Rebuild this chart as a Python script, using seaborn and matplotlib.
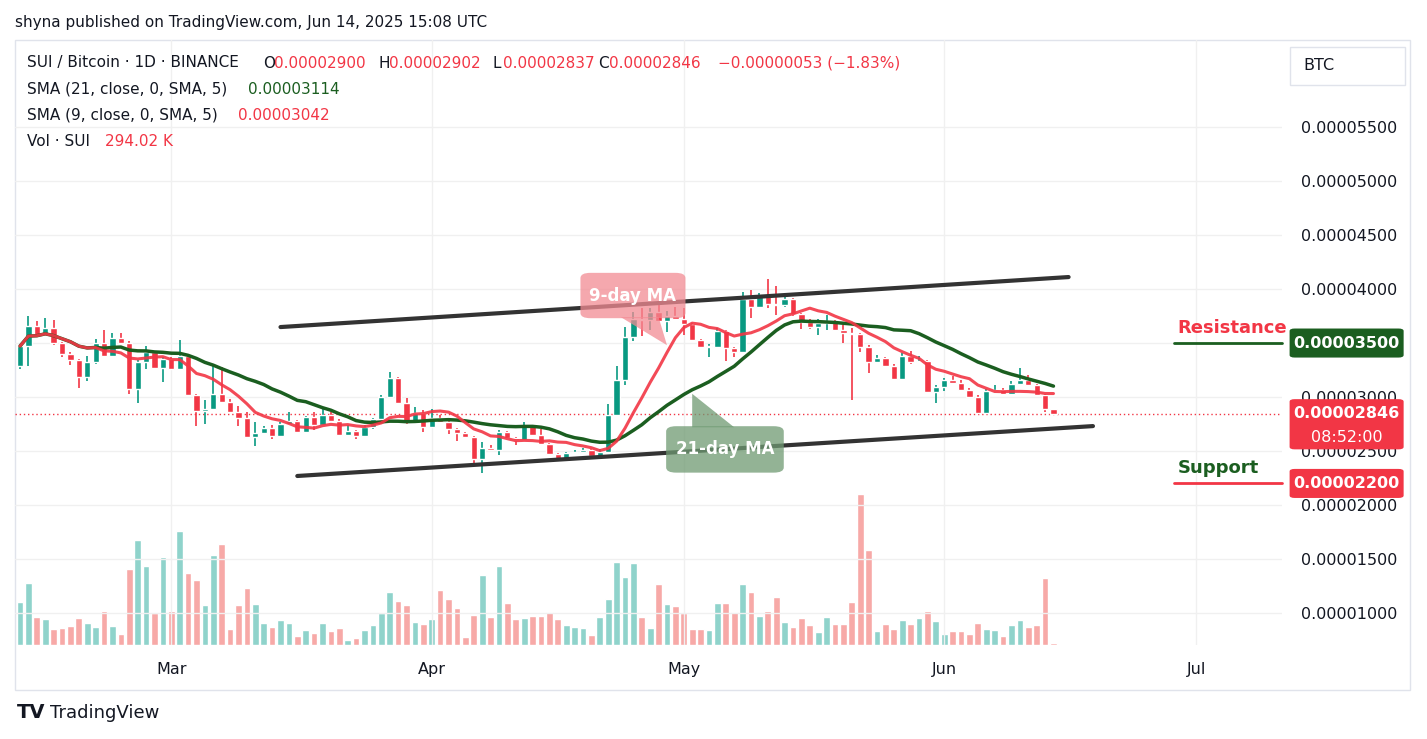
import numpy as np
import pandas as pd
import seaborn as sns
import matplotlib.pyplot as plt
from matplotlib.patches import FancyBboxPatch, Polygon

# --- Data (prices in micro-BTC, i.e. x 1e-6), daily from Feb 11 2025 ---
first_open = 32.87
closes = [34.72, 36.57, 35.74, 36.39, 35.00, 33.98, 33.43, 31.85, 33.24, 35.00,
          33.80, 35.46, 35.00, 30.74, 33.24, 34.17, 32.69, 33.52, 32.59, 33.80,
          30.19, 28.70, 28.89, 30.28, 29.54, 28.61, 28.06, 26.30, 26.67, 27.13,
          26.39, 27.50, 27.78, 26.76, 28.15, 27.41, 28.33, 27.78, 26.48, 26.85,
          26.39, 27.22, 27.96, 30.00, 31.76, 29.44, 27.69, 28.52, 27.22, 28.06,
          27.69, 27.04, 26.67, 26.30, 24.26, 25.28, 25.09, 26.76, 26.20, 26.02,
          27.31, 26.48, 25.65, 24.72, 24.26, 24.81, 24.91, 25.09, 24.54, 24.91,
          28.33, 31.57, 35.56, 37.22, 37.13, 37.87, 37.04, 37.50, 37.22, 36.76,
          35.28, 34.63, 34.63, 36.11, 34.54, 34.17, 39.07, 38.33, 39.35, 38.61,
          38.52, 39.07, 37.69, 36.94, 36.48, 36.85, 37.04, 36.20, 35.93, 35.83,
          34.63, 33.24, 33.61, 32.87, 31.67, 33.80, 33.24, 33.33, 30.46, 30.93,
          31.57, 31.30, 30.65, 30.00, 28.52, 30.56, 30.65, 30.28, 31.20, 31.57,
          31.11, 30.19, 28.89, 28.46]
wick_up = [0.2, 0.9, 0.5, 0.9, 0.7, 0.1, 0.2, 0.1, 0.6, 0.4, 1.2, 0.5, 0.5, 0.2, 0.2,
           0.6, 0.1, 0.2, 0.2, 1.5, 0.1, 0.1, 0.8, 2.6, 2.5, 0.3, 0.6, 0.6, 1.0, 0.2,
           0.3, 0.2, 0.8, 0.1, 0.1, 0.5, 0.7, 0.3, 0.2, 0.6, 0.1, 0.2, 0.1, 0.2, 0.6,
           0.1, 0.5, 0.6, 0.3, 0.8, 0.3, 0.1, 0.1, 0.1, 0.1, 0.6, 0.3, 0.2, 0.1, 0.1,
           0.4, 0.1, 0.6, 0.1, 0.1, 0.1, 0.2, 0.2, 0.1, 0.3, 1.0, 1.3, 0.9, 0.7, 1.0,
           0.4, 1.8, 0.5, 0.8, 1.0, 0.1, 0.1, 0.3, 0.3, 0.1, 0.1, 0.7, 0.8, 0.3, 1.6,
           1.7, 0.3, 0.1, 0.1, 0.3, 0.4, 0.6, 0.1, 0.5, 0.5, 0.1, 0.2, 0.3, 0.1, 0.2,
           0.3, 0.5, 0.5, 0.1, 0.2, 0.2, 0.4, 0.3, 0.2, 0.2, 0.2, 0.5, 0.2, 0.3, 1.1,
           0.5, 0.1, 0.1, 0.0]
wick_dn = [0.3, 1.8, 0.1, 0.1, 0.2, 0.3, 0.5, 1.0, 0.4, 0.2, 0.1, 0.1, 0.1, 0.5, 1.3,
           0.6, 0.1, 1.3, 0.1, 0.1, 0.1, 1.4, 1.2, 0.1, 0.1, 0.1, 0.7, 0.1, 0.8, 0.1,
           0.3, 0.1, 0.1, 0.1, 0.1, 0.5, 0.1, 0.1, 0.1, 0.1, 0.3, 0.1, 0.2, 0.1, 0.1,
           0.1, 0.2, 0.1, 0.5, 0.1, 0.1, 0.5, 0.7, 0.1, 0.5, 1.3, 0.1, 0.5, 0.1, 0.5,
           0.1, 0.1, 0.1, 0.1, 0.1, 0.1, 0.1, 0.1, 0.1, 0.3, 0.1, 0.1, 0.5, 0.4, 1.5,
           0.9, 0.1, 1.0, 0.1, 1.0, 0.1, 0.1, 0.9, 0.1, 1.2, 0.5, 0.1, 1.0, 0.1, 0.4,
           0.9, 0.2, 0.2, 0.6, 0.2, 0.7, 0.6, 0.1, 0.9, 6.1, 0.5, 1.0, 0.1, 0.1, 0.1,
           0.1, 0.2, 0.1, 0.1, 1.0, 0.4, 0.1, 0.1, 0.1, 0.1, 0.1, 0.1, 0.1, 0.1, 0.1,
           0.1, 0.1, 0.3, 0.0]
# volume in units of ~130K SUI
volumes = [43, 62, 28, 26, 16, 17, 19, 27, 22, 18, 34, 19, 11, 76, 105, 79, 32, 88, 34, 114,
           72, 65, 40, 90, 101, 16, 40, 57, 41, 22, 18, 25, 22, 9, 15, 12, 22, 14, 17, 5,
           7, 15, 20, 32, 53, 44, 40, 23, 21, 26, 55, 46, 37, 8, 30, 70, 28, 79, 42, 26,
           27, 29, 29, 33, 26, 20, 18, 17, 10, 28, 46, 83, 68, 82, 28, 17, 61, 41, 39, 32,
           16, 16, 15, 42, 42, 33, 61, 53, 29, 34, 48, 23, 18, 27, 20, 13, 28, 21, 21, 43,
           151, 95, 14, 21, 16, 25, 21, 27, 34, 24, 11, 14, 14, 11, 22, 16, 15, 9, 20, 25,
           18, 20, 67, 2]
month_labels = ["Mar", "Apr", "May", "Jun", "Jul"]
month_days = [18, 49, 79, 110, 140]  # day index from Feb 11
upper_channel = ([31.0, 124.8], [36.48, 41.11])
lower_channel = ([33.0, 127.7], [22.69, 27.31])
resistance, support = 35.0, 22.0

df = pd.DataFrame({"day": np.arange(len(closes)), "close": closes})
df["open"] = [first_open] + closes[:-1]
df["high"] = df[["open", "close"]].max(axis=1) + np.array(wick_up)
df["low"] = df[["open", "close"]].min(axis=1) - np.array(wick_dn)
df["volume"] = volumes
df["sma9"] = df["close"].rolling(9, min_periods=1).mean()
df["sma21"] = df["close"].rolling(21, min_periods=1).mean()
up = df["close"] >= df["open"]

GREEN, RED = "#089981", "#f23645"
sns.set_theme(style="white")
plt.rcParams["font.family"] = "DejaVu Sans"

W, H = 1427, 739
fig = plt.figure(figsize=(W / 100, H / 100), dpi=100)
ax = fig.add_axes([15 / W, (H - 645) / H, (1282 - 15) / W, 605 / H])
axv = ax.twinx()

x0, x1 = -0.6, 150.2
ymin, ymax = 7.04, 63.06

# volume
axv.bar(df["day"], df["volume"], width=0.8,
        color=np.where(up, "#8fd3cb", "#f7a9a7"), zorder=1)
axv.set_ylim(0, 605)
axv.axis("off")
ax.set_zorder(axv.get_zorder() + 1)
ax.patch.set_visible(False)

# grid
for v in range(10, 60, 5):
    ax.axhline(v, color="#f0f0f0", lw=1, zorder=0)
for d in month_days:
    ax.axvline(d, color="#f0f0f0", lw=1, zorder=0)

# candles
cols = np.where(up, GREEN, RED)
ax.vlines(df["day"], df["low"], df["high"], color=cols, lw=1.2, zorder=3)
ax.bar(df["day"], (df["close"] - df["open"]).where(lambda s: s.abs() > 0.08, 0.08),
       bottom=df["open"], width=0.75, color=cols, zorder=4)

# moving averages
sns.lineplot(data=df, x="day", y="sma21", ax=ax, color="#1b5e20", lw=2.5, zorder=5)
sns.lineplot(data=df, x="day", y="sma9", ax=ax, color=RED, lw=2.2, zorder=6, alpha=0.9)

# channel
ax.plot(*upper_channel, color="#333333", lw=3, solid_capstyle="round", zorder=7)
ax.plot(*lower_channel, color="#333333", lw=3, solid_capstyle="round", zorder=7)

# last price line
ax.axhline(closes[-1], color=RED, lw=1, ls=(0, (1, 2)), zorder=2)

# resistance / support
ax.plot([137.3, 150.2], [resistance, resistance], color="#1b5e20", lw=2, clip_on=False)
ax.plot([137.3, 150.2], [support, support], color=RED, lw=2, clip_on=False)
ax.text(137.8, resistance + 0.6, "Resistance", color=RED, fontsize=13, fontweight="bold", va="bottom")
ax.text(137.8, support + 0.6, "Support", color="#1b5e20", fontsize=13, fontweight="bold", va="bottom")

# callouts
def callout(text, xy_box, tip, color):
    bx, by, bw, bh = xy_box
    ax.add_patch(FancyBboxPatch((bx, by), bw, bh, boxstyle="round,pad=0,rounding_size=1.2",
                                fc=color, ec="none", alpha=0.75, zorder=8,
                                mutation_aspect=0.4))
    ax.add_patch(Polygon(tip, closed=True, fc=color, ec="none", alpha=0.75, zorder=8))
    ax.text(bx + bw / 2, by + bh / 2, text, color="white", fontsize=12, fontweight="bold",
            ha="center", va="center", zorder=9)

callout("9-day MA", (66.7, 37.3, 12.5, 4.2), [(71.5, 37.4), (76.0, 37.4), (77.0, 34.8)], "#f28b93")
callout("21-day MA", (76.9, 23.0, 14.0, 4.3), [(80.0, 27.2), (85.0, 27.2), (80.0, 30.3)], "#6f9a72")

ax.set_xlim(x0, x1)
ax.set_ylim(ymin, ymax)
ax.set_xticks(month_days)
ax.set_xticklabels(month_labels, fontsize=11.5, color="#131722")
ax.tick_params(axis="x", length=0, pad=12)
ax.yaxis.tick_right()
ticks = [v for v in range(10, 60, 5) if v != 35]
ax.set_yticks(ticks)
ax.set_yticklabels([f"{v * 1e-6:.8f}" for v in ticks], fontsize=11.5, color="#131722")
ax.tick_params(axis="y", length=0, pad=14)
ax.set_xlabel("")
ax.set_ylabel("")
for s in ax.spines.values():
    s.set_visible(False)

# price labels on axis
def axis_label(y, lines, color):
    fy = (y - ymin) / (ymax - ymin)
    h = 0.048 if len(lines) == 1 else 0.083
    top = fy + 0.024
    ax.add_patch(FancyBboxPatch((1.006, top - h), 0.09, h, transform=ax.transAxes,
                                boxstyle="round,pad=0,rounding_size=0.004", fc=color, ec="none",
                                clip_on=False, zorder=10))
    for k, t in enumerate(lines):
        ax.text(1.051, fy - k * 0.04, t, transform=ax.transAxes, color="white", fontsize=11.5,
                fontweight="bold" if k == 0 else "normal", ha="center", va="center", zorder=11)

axis_label(resistance, ["0.00003500"], "#1b5e20")
axis_label(closes[-1], ["0.00002846", "08:52:00"], RED)
axis_label(support, ["0.00002200"], RED)

# frame
fig.add_artist(plt.Rectangle((15 / W, (H - 690) / H), 1395 / W, 650 / H, transform=fig.transFigure,
                             fill=False, ec="#e0e3eb", lw=1))
fig.add_artist(plt.Rectangle((1290 / W, (H - 85) / H), 115 / W, 38 / H, transform=fig.transFigure,
                             fill=False, ec="#e0e3eb", lw=1))
fig.text(1303 / W, 1 - 66 / H, "BTC", fontsize=11.5, va="center", color="#131722")

# header texts
FS = 11
fig.text(15 / W, 1 - 22 / H, "shyna published on TradingView.com, Jun 14, 2025 15:08 UTC",
         fontsize=FS, va="center", color="#131722")
fig.text(27 / W, 1 - 63 / H, "SUI / Bitcoin · 1D · BINANCE", fontsize=FS, va="center", color="#131722")
ohlc = [("O", "0.00002900"), ("H", "0.00002902"), ("L", "0.00002837"), ("C", "0.00002846")]
xs = [263, 378, 492, 598]
for (k, v), xp in zip(ohlc, xs):
    fig.text(xp / W, 1 - 63 / H, k, fontsize=FS, va="center", color="#131722")
    fig.text((xp + 11) / W, 1 - 63 / H, v, fontsize=FS, va="center", color=RED)
fig.text(718 / W, 1 - 63 / H, "−0.00000053 (−1.83%)", fontsize=FS, va="center", color=RED)
fig.text(27 / W, 1 - 89 / H, "SMA (21, close, 0, SMA, 5)", fontsize=FS, va="center", color="#131722")
fig.text(248 / W, 1 - 89 / H, "0.00003114", fontsize=FS, va="center", color="#1b5e20")
fig.text(27 / W, 1 - 115 / H, "SMA (9, close, 0, SMA, 5)", fontsize=FS, va="center", color="#131722")
fig.text(238 / W, 1 - 115 / H, "0.00003042", fontsize=FS, va="center", color=RED)
fig.text(27 / W, 1 - 141 / H, "Vol · SUI", fontsize=FS, va="center", color="#131722")
fig.text(105 / W, 1 - 141 / H, "294.02 K", fontsize=FS, va="center", color=RED)

fig.text(17 / W, 1 - 713 / H, "TV", fontsize=14, fontweight="bold", va="center", color="#131722")
fig.text(50 / W, 1 - 713 / H, "TradingView", fontsize=13, va="center", color="#131722")

fig.savefig("out.png", dpi=100, facecolor="white")
